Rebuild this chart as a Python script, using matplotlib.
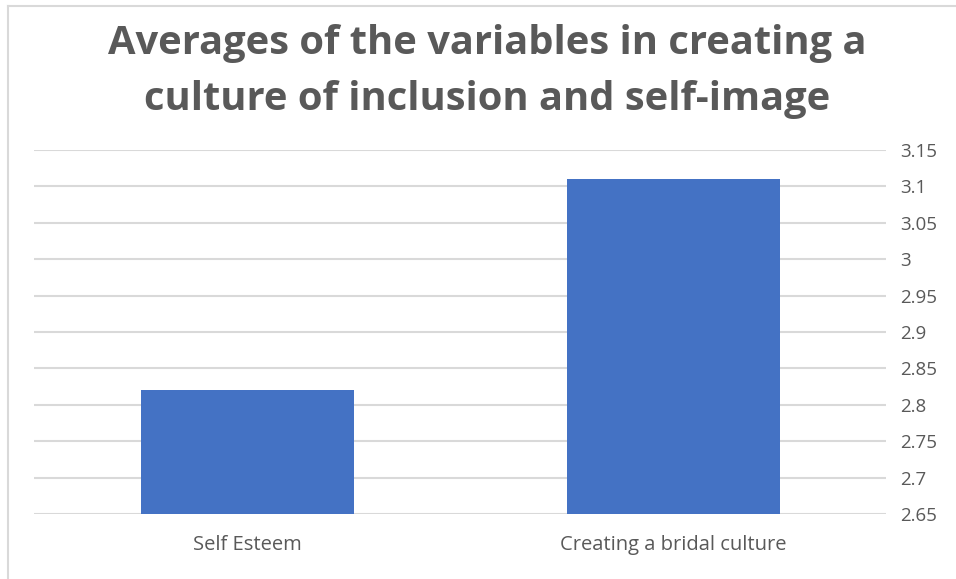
import matplotlib.pyplot as plt
from matplotlib.lines import Line2D

# data
categories = ['Self Esteem', 'Creating a bridal culture']
averages = [2.82, 3.11]
y_ticks = [2.65, 2.7, 2.75, 2.8, 2.85, 2.9, 2.95, 3.0, 3.05, 3.1, 3.15]
y_tick_labels = ['2.65', '2.7', '2.75', '2.8', '2.85', '2.9', '2.95', '3', '3.05', '3.1', '3.15']

text_color = '#595959'
plt.rcParams['font.family'] = ['Open Sans', 'DejaVu Sans']

fig = plt.figure(figsize=(9.56, 5.79), dpi=100)
ax = fig.add_axes([34 / 956, 65 / 579, 852 / 956, 364 / 579])

x = range(len(categories))
ax.bar(x, averages, width=0.5, color='#4472C4', zorder=3)

ax.set_xlim(-0.5, len(categories) - 0.5)
ax.set_ylim(2.65, 3.15)
ax.set_yticks(y_ticks)
ax.set_yticklabels(y_tick_labels)
ax.yaxis.tick_right()
ax.set_xticks(list(x))
ax.set_xticklabels(categories)
ax.tick_params(axis='y', length=0, pad=10, labelsize=13.5, labelcolor=text_color)
ax.tick_params(axis='x', length=0, pad=15, labelsize=14.5, labelcolor=text_color)
ax.grid(axis='y', color='#d9d9d9', linewidth=1.5, zorder=0)
for s in ax.spines.values():
    s.set_visible(False)

fig.text(487 / 956, 1 - 54 / 579, 'Averages of the variables in creating a',
         ha='center', va='baseline', fontsize=28.7, fontweight='bold', color=text_color)
fig.text(487 / 956, 1 - 110 / 579, 'culture of inclusion and self-image',
         ha='center', va='baseline', fontsize=28.7, fontweight='bold', color=text_color)

# chart frame (only top and left edges visible in the crop)
fig.add_artist(Line2D([8 / 956, 1], [1 - 6 / 579, 1 - 6 / 579], color='#d9d9d9', linewidth=1.5))
fig.add_artist(Line2D([8 / 956, 8 / 956], [0, 1 - 6 / 579], color='#d9d9d9', linewidth=1.5))

fig.savefig('out.png', dpi=100)
